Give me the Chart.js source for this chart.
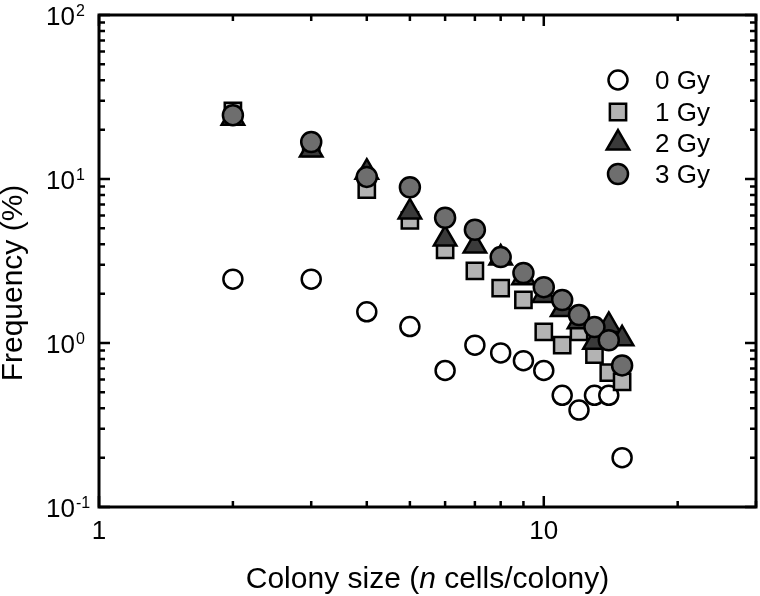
<!DOCTYPE html>
<html>
<head>
<meta charset="utf-8">
<script src="https://cdn.jsdelivr.net/npm/chart.js@4/dist/chart.umd.min.js"></script>
<style>
  html, body { margin: 0; padding: 0; background: #fff; }
  #wrap { width: 760px; height: 596px; }
</style>
</head>
<body>
<div id="wrap"><canvas id="c" width="760" height="596"></canvas></div>
<script>
// colony size (n cells/colony)
const sizes = [2, 3, 4, 5, 6, 7, 8, 9, 10, 11, 12, 13, 14, 15];
// frequency (%) per dose
const gy0 = [2.45, 2.45, 1.55, 1.26, 0.68, 0.97, 0.87, 0.78, 0.68, 0.48, 0.39, 0.48, 0.48, 0.2];
const gy1 = [26, 15.5, 8.6, 5.6, 3.7, 2.75, 2.16, 1.83, 1.17, 0.97, 1.17, 0.85, 0.66, 0.58];
const gy2 = [23.5, 15, 11, 6.3, 4.3, 3.9, 3.3, 2.5, 1.95, 1.6, 1.35, 1.01, 1.28, 1.06];
const gy3 = [24.5, 16.8, 10.3, 8.9, 5.8, 4.9, 3.34, 2.67, 2.19, 1.83, 1.48, 1.25, 1.04, 0.73];

const doseLabels = ["0 Gy", "1 Gy", "2 Gy", "3 Gy"];
const xTickVals = [1, 10];
const yTickVals = [0.1, 1, 10, 100];
const yTickExp = ["-1", "0", "1", "2"];

const FONT = "'Liberation Sans', Arial, sans-serif";

const styles = [
  { pointStyle: "circle", radius: 9.5, bg: "#ffffff" },
  { pointStyle: "rect", radius: 11.5, bg: "#b3b3b3" },
  { pointStyle: "triangle", radius: 13, bg: "#3a3a3a" },
  { pointStyle: "circle", radius: 10, bg: "#6e6e6e" }
];

const series = [gy0, gy1, gy2, gy3];
const datasets = series.map((vals, i) => ({
  label: doseLabels[i],
  data: sizes.map((s, j) => ({ x: s, y: vals[j] })),
  pointStyle: styles[i].pointStyle,
  pointRadius: styles[i].radius,
  pointHoverRadius: styles[i].radius,
  backgroundColor: styles[i].bg,
  borderColor: "#000",
  pointBorderWidth: 2.5,
  showLine: false,
  order: 4 - i
}));

function logTicks(min, max) {
  const out = [];
  for (let d = Math.floor(Math.log10(min)); d <= Math.ceil(Math.log10(max)); d++) {
    for (let m = 1; m <= 9; m++) {
      const v = m * Math.pow(10, d);
      if (v >= min * 0.999 && v <= max * 1.001) out.push({ v, major: m === 1 });
    }
  }
  return out;
}

const framePlugin = {
  id: "frame",
  afterDraw(chart) {
    const ctx = chart.ctx;
    const a = chart.chartArea;
    const xs = chart.scales.x, ys = chart.scales.y;
    ctx.save();
    ctx.strokeStyle = "#000";
    ctx.lineCap = "butt";

    // ticks, inward on all four sides
    ctx.lineWidth = 2.5;
    logTicks(xs.min, xs.max).forEach(t => {
      const px = xs.getPixelForValue(t.v);
      const len = t.major ? 11 : 6;
      ctx.beginPath();
      ctx.moveTo(px, a.bottom); ctx.lineTo(px, a.bottom - len);
      ctx.moveTo(px, a.top); ctx.lineTo(px, a.top + len);
      ctx.stroke();
    });
    logTicks(ys.min, ys.max).forEach(t => {
      const py = ys.getPixelForValue(t.v);
      const len = t.major ? 11 : 6;
      ctx.beginPath();
      ctx.moveTo(a.left, py); ctx.lineTo(a.left + len, py);
      ctx.moveTo(a.right, py); ctx.lineTo(a.right - len, py);
      ctx.stroke();
    });

    // frame
    ctx.lineWidth = 3;
    ctx.strokeRect(a.left, a.top, a.right - a.left, a.bottom - a.top);

    // tick labels
    ctx.fillStyle = "#000";
    ctx.textBaseline = "alphabetic";
    yTickVals.forEach((v, i) => {
      const py = ys.getPixelForValue(v);
      ctx.font = "26px " + FONT;
      ctx.textAlign = "right";
      ctx.fillText("10", a.left - 24, py + 10);
      ctx.font = "16px " + FONT;
      ctx.textAlign = "left";
      ctx.fillText(yTickExp[i], a.left - 23, py + 0.5);
    });
    ctx.font = "26px " + FONT;
    ctx.textAlign = "center";
    xTickVals.forEach(v => {
      ctx.fillText(String(v), xs.getPixelForValue(v), a.bottom + 32);
    });

    // axis titles
    const tf = "30px " + FONT, tfi = "italic 30px " + FONT;
    ctx.font = tf;
    ctx.textAlign = "left";
    const p1 = "Colony size (", p2 = "n", p3 = " cells/colony)";
    const w1 = ctx.measureText(p1).width;
    const w3 = ctx.measureText(p3).width;
    ctx.font = tfi;
    const w2 = ctx.measureText(p2).width;
    let tx = (a.left + a.right) / 2 - (w1 + w2 + w3) / 2;
    const ty = 588;
    ctx.font = tf;
    ctx.fillText(p1, tx, ty); tx += w1;
    ctx.font = tfi;
    ctx.fillText(p2, tx, ty); tx += w2;
    ctx.font = tf;
    ctx.fillText(p3, tx, ty);

    ctx.save();
    ctx.translate(22, 283);
    ctx.rotate(-Math.PI / 2);
    ctx.textAlign = "center";
    ctx.fillText("Frequency (%)", 0, 0);
    ctx.restore();

    // legend
    const legX = 618, legY = [80, 112, 143, 174];
    doseLabels.forEach((lab, i) => {
      ctx.fillStyle = styles[i].bg;
      ctx.strokeStyle = "#000";
      ctx.lineWidth = 2.5;
      Chart.helpers.drawPoint(ctx, {
        pointStyle: styles[i].pointStyle,
        radius: styles[i].radius,
        borderWidth: 2.5,
        rotation: 0
      }, legX, legY[i]);
      ctx.fillStyle = "#000";
      ctx.font = "26px " + FONT;
      ctx.textAlign = "left";
      ctx.fillText(lab, 655, legY[i] + 9);
    });
    ctx.restore();
  }
};

new Chart(document.getElementById("c"), {
  type: "scatter",
  data: { datasets },
  options: {
    responsive: false,
    animation: false,
    layout: { autoPadding: false, padding: { left: 99, top: 15, right: 4, bottom: 89 } },
    plugins: { legend: { display: false }, tooltip: { enabled: false } },
    scales: {
      x: { type: "logarithmic", min: 1, max: 30, display: false },
      y: { type: "logarithmic", min: 0.1, max: 100, display: false }
    }
  },
  plugins: [framePlugin]
});
</script>
</body>
</html>
